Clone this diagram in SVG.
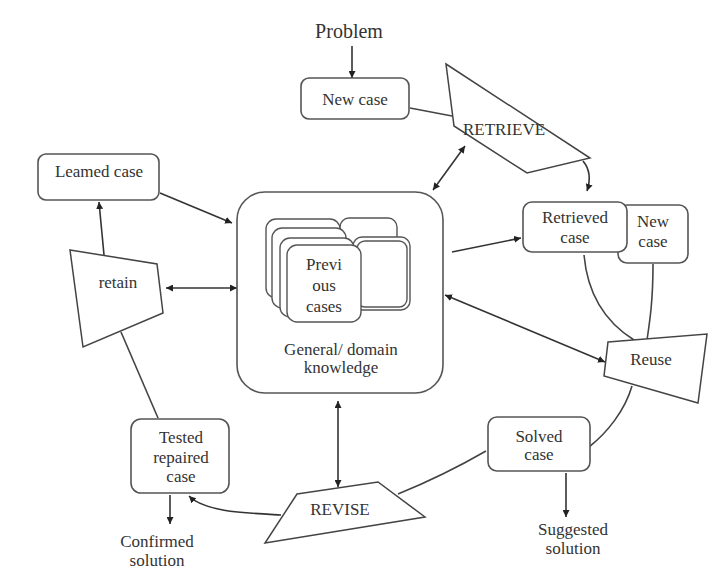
<svg xmlns="http://www.w3.org/2000/svg" width="714" height="573" viewBox="0 0 714 573">
<defs>
<style>
text{font-family:"Liberation Serif","Times New Roman",serif;font-size:17px;fill:#333;text-anchor:middle}
.box{fill:#fff;stroke:#555;stroke-width:1.6}
.shape{fill:#fff;stroke:#444;stroke-width:1.5}
.card{fill:#fff;stroke:#555;stroke-width:1.4}
.ln{fill:none;stroke:#444;stroke-width:1.6}
.ar{fill:none;stroke:#333;stroke-width:1.6;marker-end:url(#ah)}
.dar{fill:none;stroke:#333;stroke-width:1.6;marker-start:url(#ah);marker-end:url(#ah)}
</style>
<marker id="ah" viewBox="0 0 10 10" refX="10" refY="5" markerWidth="7" markerHeight="7" orient="auto-start-reverse" markerUnits="userSpaceOnUse">
<path d="M0,0 L10,5 L0,10 z" fill="#222"/>
</marker>
</defs>
<rect width="714" height="573" fill="#fff"/>

<g id="connectors">
<line class="ar" x1="352" y1="46" x2="352" y2="78"/>
<line class="ln" x1="410" y1="108" x2="452" y2="116"/>
<line class="dar" x1="465" y1="146" x2="433" y2="190"/>
<path class="ar" d="M583,161 Q593,173 587,191"/>
<line class="ar" x1="160" y1="193" x2="232" y2="223"/>
<line class="ar" x1="104" y1="255" x2="99" y2="202"/>
<line class="dar" x1="166" y1="288" x2="237" y2="288"/>
<line class="ar" x1="452" y1="252" x2="521" y2="238"/>
<line class="dar" x1="445" y1="295" x2="605" y2="362"/>
<line class="dar" x1="338" y1="401" x2="338" y2="487"/>
<path class="ar" d="M281,515 C245,513 205,512 189,496"/>
<line class="ar" x1="170" y1="495" x2="170" y2="524"/>
<line class="ar" x1="566" y1="473" x2="566" y2="517"/>
<path class="ln" d="M584,255 C588,300 610,325 634,340"/>
<path class="ln" d="M653,264 C653,300 650,320 647,340"/>
<path class="ln" d="M632,386 C625,410 608,432 589,447"/>
<path class="ln" d="M486,451 C460,466 430,481 398,494"/>
<line class="ln" x1="121" y1="332" x2="158" y2="418"/>
</g>

<g id="problem"><text x="349" y="38" style="font-size:20px">Problem</text></g>

<g id="new-case">
<rect class="box" x="301" y="78" width="108" height="41" rx="8"/>
<text x="355" y="105">New case</text>
</g>

<g id="retrieve">
<polygon class="shape" points="446,64 590,158 527,173 454,126"/>
<text x="504" y="135">RETRIEVE</text>
</g>

<g id="learned-case">
<rect class="box" x="38" y="154" width="121" height="46" rx="8"/>
<text x="99" y="177">Leamed case</text>
</g>

<g id="retain">
<polygon class="shape" points="70,250 157,264 163,313 83,347"/>
<text x="118" y="288">retain</text>
</g>

<g id="knowledge">
<rect class="box" x="237" y="192" width="206" height="201" rx="28"/>
<rect class="card" x="340" y="218" width="57" height="75" rx="9"/>
<rect class="card" x="353" y="237" width="57" height="73" rx="9"/>
<rect class="card" x="357" y="241" width="50" height="66" rx="8"/>
<rect class="card" x="266" y="219" width="74" height="79" rx="10"/>
<rect class="card" x="272" y="228" width="74" height="80" rx="10"/>
<rect class="card" x="280" y="238" width="74" height="79" rx="10"/>
<rect class="card" x="287" y="245" width="74" height="77" rx="10"/>
<text x="324" y="270">Previ</text>
<text x="324" y="291">ous</text>
<text x="324" y="312">cases</text>
<text x="341" y="355">General/ domain</text>
<text x="341" y="373">knowledge</text>
</g>

<g id="new-case-2">
<rect class="box" x="618" y="205" width="70" height="58" rx="9"/>
<text x="653" y="227">New</text>
<text x="653" y="247">case</text>
</g>

<g id="retrieved-case">
<rect class="box" x="523" y="202" width="104" height="50" rx="9"/>
<text x="575" y="223">Retrieved</text>
<text x="575" y="243">case</text>
</g>

<g id="reuse">
<polygon class="shape" points="608,342 707,334 698,403 604,376"/>
<text x="651" y="365">Reuse</text>
</g>

<g id="solved-case">
<rect class="box" x="488" y="417" width="102" height="54" rx="9"/>
<text x="539" y="442">Solved</text>
<text x="539" y="460">case</text>
</g>

<g id="suggested-solution">
<text x="573" y="535">Suggested</text>
<text x="573" y="554">solution</text>
</g>

<g id="revise">
<polygon class="shape" points="297,494 378,482 425,517 265,543"/>
<text x="340" y="515">REVISE</text>
</g>

<g id="tested-case">
<rect class="box" x="131" y="419" width="98" height="74" rx="10"/>
<text x="181" y="443">Tested</text>
<text x="181" y="463">repaired</text>
<text x="181" y="482">case</text>
</g>

<g id="confirmed-solution">
<text x="157" y="547">Confirmed</text>
<text x="157" y="566">solution</text>
</g>
</svg>
